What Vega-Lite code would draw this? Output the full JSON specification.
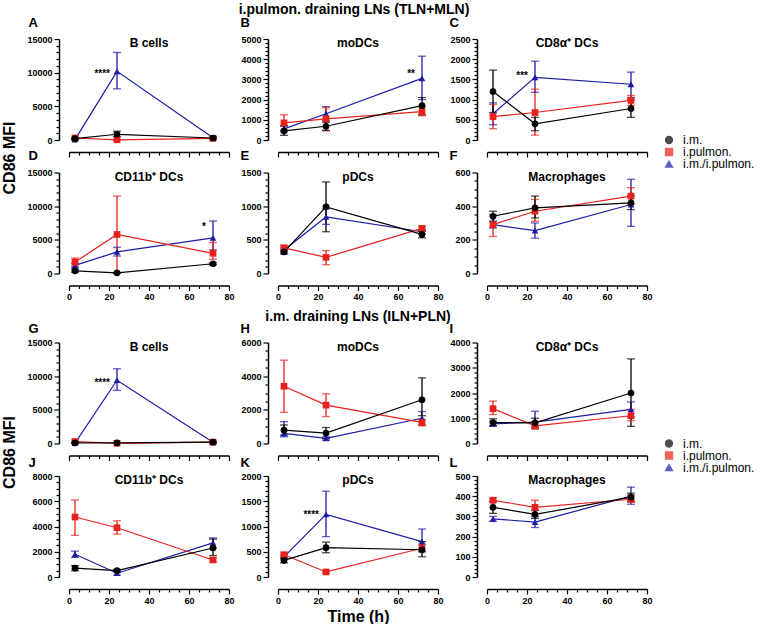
{
"$schema": "https://vega.github.io/schema/vega-lite/v6.json",
"padding": {"left": 1, "top": 3, "right": 0, "bottom": 0},
"datasets": {
"d": [
{"panel":"A","group":"i.m./i.pulmon.","time":3,"mean":50,"lo":0,"hi":100},
{"panel":"A","group":"i.m./i.pulmon.","time":24,"mean":10200,"lo":7600,"hi":13000,"star":"****","sy":10200},
{"panel":"A","group":"i.m./i.pulmon.","time":72,"mean":350,"lo":250,"hi":450},
{"panel":"A","group":"i.pulmon.","time":3,"mean":300,"lo":150,"hi":450},
{"panel":"A","group":"i.pulmon.","time":24,"mean":30,"lo":0,"hi":60},
{"panel":"A","group":"i.pulmon.","time":72,"mean":250,"lo":150,"hi":350},
{"panel":"A","group":"i.m.","time":3,"mean":200,"lo":100,"hi":300,"name":"B cells"},
{"panel":"A","group":"i.m.","time":24,"mean":850,"lo":500,"hi":1300},
{"panel":"A","group":"i.m.","time":72,"mean":300,"lo":200,"hi":400},
{"panel":"B","group":"i.m./i.pulmon.","time":3,"mean":550,"lo":400,"hi":700},
{"panel":"B","group":"i.m./i.pulmon.","time":24,"mean":1300,"lo":950,"hi":1650},
{"panel":"B","group":"i.m./i.pulmon.","time":72,"mean":3050,"lo":2000,"hi":4150,"star":"**","sy":3440},
{"panel":"B","group":"i.pulmon.","time":3,"mean":850,"lo":500,"hi":1250},
{"panel":"B","group":"i.pulmon.","time":24,"mean":1050,"lo":450,"hi":1600},
{"panel":"B","group":"i.pulmon.","time":72,"mean":1400,"lo":1200,"hi":1650},
{"panel":"B","group":"i.m.","time":3,"mean":450,"lo":230,"hi":700,"name":"moDCs"},
{"panel":"B","group":"i.m.","time":24,"mean":680,"lo":480,"hi":880},
{"panel":"B","group":"i.m.","time":72,"mean":1700,"lo":1250,"hi":2100},
{"panel":"C","group":"i.m./i.pulmon.","time":3,"mean":650,"lo":380,"hi":920},
{"panel":"C","group":"i.m./i.pulmon.","time":24,"mean":1550,"lo":1180,"hi":1950,"star":"***","sy":1650},
{"panel":"C","group":"i.m./i.pulmon.","time":72,"mean":1380,"lo":1050,"hi":1680},
{"panel":"C","group":"i.pulmon.","time":3,"mean":580,"lo":280,"hi":880},
{"panel":"C","group":"i.pulmon.","time":24,"mean":680,"lo":120,"hi":1260},
{"panel":"C","group":"i.pulmon.","time":72,"mean":980,"lo":860,"hi":1100},
{"panel":"C","group":"i.m.","time":3,"mean":1200,"lo":680,"hi":1730,"name":"CD8α⁺ DCs"},
{"panel":"C","group":"i.m.","time":24,"mean":400,"lo":230,"hi":560},
{"panel":"C","group":"i.m.","time":72,"mean":780,"lo":560,"hi":1000},
{"panel":"D","group":"i.m./i.pulmon.","time":3,"mean":1200,"lo":900,"hi":1500},
{"panel":"D","group":"i.m./i.pulmon.","time":24,"mean":3200,"lo":2600,"hi":3900},
{"panel":"D","group":"i.m./i.pulmon.","time":72,"mean":5300,"lo":3500,"hi":7800,"star":"*","sy":7350},
{"panel":"D","group":"i.pulmon.","time":3,"mean":1700,"lo":1100,"hi":2300},
{"panel":"D","group":"i.pulmon.","time":24,"mean":5800,"lo":0,"hi":11500},
{"panel":"D","group":"i.pulmon.","time":72,"mean":3000,"lo":2100,"hi":4600},
{"panel":"D","group":"i.m.","time":3,"mean":400,"lo":200,"hi":600,"name":"CD11b⁺ DCs"},
{"panel":"D","group":"i.m.","time":24,"mean":100,"lo":50,"hi":150},
{"panel":"D","group":"i.m.","time":72,"mean":1450,"lo":1300,"hi":1600},
{"panel":"E","group":"i.m./i.pulmon.","time":3,"mean":350,"lo":320,"hi":380},
{"panel":"E","group":"i.m./i.pulmon.","time":24,"mean":840,"lo":730,"hi":960},
{"panel":"E","group":"i.m./i.pulmon.","time":72,"mean":620,"lo":590,"hi":650},
{"panel":"E","group":"i.pulmon.","time":3,"mean":380,"lo":340,"hi":420},
{"panel":"E","group":"i.pulmon.","time":24,"mean":240,"lo":130,"hi":340},
{"panel":"E","group":"i.pulmon.","time":72,"mean":670,"lo":640,"hi":700},
{"panel":"E","group":"i.m.","time":3,"mean":320,"lo":290,"hi":350,"name":"pDCs"},
{"panel":"E","group":"i.m.","time":24,"mean":990,"lo":620,"hi":1360},
{"panel":"E","group":"i.m.","time":72,"mean":580,"lo":530,"hi":630},
{"panel":"F","group":"i.m./i.pulmon.","time":3,"mean":290,"lo":270,"hi":310},
{"panel":"F","group":"i.m./i.pulmon.","time":24,"mean":255,"lo":210,"hi":300},
{"panel":"F","group":"i.m./i.pulmon.","time":72,"mean":410,"lo":280,"hi":560},
{"panel":"F","group":"i.pulmon.","time":3,"mean":290,"lo":220,"hi":350},
{"panel":"F","group":"i.pulmon.","time":24,"mean":370,"lo":310,"hi":440},
{"panel":"F","group":"i.pulmon.","time":72,"mean":460,"lo":410,"hi":510},
{"panel":"F","group":"i.m.","time":3,"mean":340,"lo":310,"hi":370,"name":"Macrophages"},
{"panel":"F","group":"i.m.","time":24,"mean":390,"lo":330,"hi":460},
{"panel":"F","group":"i.m.","time":72,"mean":420,"lo":380,"hi":460},
{"panel":"G","group":"i.m./i.pulmon.","time":3,"mean":50,"lo":0,"hi":100},
{"panel":"G","group":"i.m./i.pulmon.","time":24,"mean":9400,"lo":7900,"hi":11100,"star":"****","sy":9400},
{"panel":"G","group":"i.m./i.pulmon.","time":72,"mean":200,"lo":100,"hi":300},
{"panel":"G","group":"i.pulmon.","time":3,"mean":300,"lo":100,"hi":500},
{"panel":"G","group":"i.pulmon.","time":24,"mean":30,"lo":0,"hi":60},
{"panel":"G","group":"i.pulmon.","time":72,"mean":200,"lo":100,"hi":300},
{"panel":"G","group":"i.m.","time":3,"mean":100,"lo":50,"hi":150,"name":"B cells"},
{"panel":"G","group":"i.m.","time":24,"mean":100,"lo":50,"hi":150},
{"panel":"G","group":"i.m.","time":72,"mean":200,"lo":100,"hi":300},
{"panel":"H","group":"i.m./i.pulmon.","time":3,"mean":600,"lo":400,"hi":1300},
{"panel":"H","group":"i.m./i.pulmon.","time":24,"mean":300,"lo":200,"hi":400},
{"panel":"H","group":"i.m./i.pulmon.","time":72,"mean":1500,"lo":1100,"hi":1900},
{"panel":"H","group":"i.pulmon.","time":3,"mean":3400,"lo":1850,"hi":4950},
{"panel":"H","group":"i.pulmon.","time":24,"mean":2280,"lo":1600,"hi":2950},
{"panel":"H","group":"i.pulmon.","time":72,"mean":1250,"lo":1050,"hi":1450},
{"panel":"H","group":"i.m.","time":3,"mean":790,"lo":500,"hi":1100,"name":"moDCs"},
{"panel":"H","group":"i.m.","time":24,"mean":620,"lo":300,"hi":950},
{"panel":"H","group":"i.m.","time":72,"mean":2600,"lo":1650,"hi":3900},
{"panel":"I","group":"i.m./i.pulmon.","time":3,"mean":780,"lo":700,"hi":880},
{"panel":"I","group":"i.m./i.pulmon.","time":24,"mean":850,"lo":600,"hi":1280},
{"panel":"I","group":"i.m./i.pulmon.","time":72,"mean":1350,"lo":1050,"hi":1650},
{"panel":"I","group":"i.pulmon.","time":3,"mean":1380,"lo":1150,"hi":1680},
{"panel":"I","group":"i.pulmon.","time":24,"mean":700,"lo":570,"hi":850},
{"panel":"I","group":"i.pulmon.","time":72,"mean":1100,"lo":900,"hi":1350},
{"panel":"I","group":"i.m.","time":3,"mean":830,"lo":700,"hi":980,"name":"CD8α⁺ DCs"},
{"panel":"I","group":"i.m.","time":24,"mean":820,"lo":650,"hi":1000},
{"panel":"I","group":"i.m.","time":72,"mean":2000,"lo":680,"hi":3350},
{"panel":"J","group":"i.m./i.pulmon.","time":3,"mean":1800,"lo":1550,"hi":2050},
{"panel":"J","group":"i.m./i.pulmon.","time":24,"mean":300,"lo":150,"hi":450},
{"panel":"J","group":"i.m./i.pulmon.","time":72,"mean":2700,"lo":2300,"hi":3100},
{"panel":"J","group":"i.pulmon.","time":3,"mean":4750,"lo":3300,"hi":6100},
{"panel":"J","group":"i.pulmon.","time":24,"mean":3900,"lo":3400,"hi":4450},
{"panel":"J","group":"i.pulmon.","time":72,"mean":1350,"lo":1200,"hi":1500},
{"panel":"J","group":"i.m.","time":3,"mean":700,"lo":500,"hi":900,"name":"CD11b⁺ DCs"},
{"panel":"J","group":"i.m.","time":24,"mean":500,"lo":400,"hi":600},
{"panel":"J","group":"i.m.","time":72,"mean":2300,"lo":1700,"hi":3000},
{"panel":"K","group":"i.m./i.pulmon.","time":3,"mean":400,"lo":360,"hi":440},
{"panel":"K","group":"i.m./i.pulmon.","time":24,"mean":1240,"lo":800,"hi":1700,"star":"****","sy":1280},
{"panel":"K","group":"i.m./i.pulmon.","time":72,"mean":700,"lo":500,"hi":950},
{"panel":"K","group":"i.pulmon.","time":3,"mean":440,"lo":400,"hi":490},
{"panel":"K","group":"i.pulmon.","time":24,"mean":100,"lo":80,"hi":120},
{"panel":"K","group":"i.pulmon.","time":72,"mean":570,"lo":500,"hi":650},
{"panel":"K","group":"i.m.","time":3,"mean":330,"lo":280,"hi":380,"name":"pDCs"},
{"panel":"K","group":"i.m.","time":24,"mean":580,"lo":480,"hi":690},
{"panel":"K","group":"i.m.","time":72,"mean":540,"lo":400,"hi":700},
{"panel":"L","group":"i.m./i.pulmon.","time":3,"mean":288,"lo":275,"hi":300},
{"panel":"L","group":"i.m./i.pulmon.","time":24,"mean":272,"lo":245,"hi":300},
{"panel":"L","group":"i.m./i.pulmon.","time":72,"mean":400,"lo":360,"hi":445},
{"panel":"L","group":"i.pulmon.","time":3,"mean":380,"lo":370,"hi":390},
{"panel":"L","group":"i.pulmon.","time":24,"mean":345,"lo":315,"hi":380},
{"panel":"L","group":"i.pulmon.","time":72,"mean":385,"lo":370,"hi":405},
{"panel":"L","group":"i.m.","time":3,"mean":345,"lo":315,"hi":375,"name":"Macrophages"},
{"panel":"L","group":"i.m.","time":24,"mean":310,"lo":290,"hi":330},
{"panel":"L","group":"i.m.","time":72,"mean":395,"lo":375,"hi":415}
],
"blank": [{"section":"i.m. draining LNs (ILN+PLN)"}]
},
"title": {"text": "i.pulmon. draining LNs (TLN+MLN)", "anchor": "middle", "fontSize": 14, "offset": -1, "dx": -24},
"columns": 3,
"spacing": {"row": 32.5, "column": 49},
"bounds": "flush",
"resolve": {"scale": {"color": "independent", "shape": "independent"}},
"concat": [
{"width":160,"height":101,
"data":{"name":"d"},"transform":[{"filter":"datum.panel === 'A'"}],
"encoding":{
"x":{"field":"time","type":"quantitative","scale":{"domain":[0,80],"nice":false},"axis":{"tickCount":16,"labels":false,"title":null,"offset":12,"tickSize":{"condition":{"test":"datum.value % 20 === 0","value":5},"value":3}}},
"y":{"field":"mean","type":"quantitative","scale":{"domain":[0,15000],"nice":false},"axis":{"tickCount":15,"labelExpr":"datum.value % 5000 === 0 ? datum.label : ''","format":"d","offset":10,"title":"A","titleFontSize":13,"titleAngle":0,"titleAlign":"left","titleBaseline":"alphabetic","titleX":-31,"titleY":-13,"tickSize":{"condition":{"test":"datum.value % 5000 === 0","value":5},"value":3}}},
"color":{"field":"group","type":"nominal","scale":{"domain":["i.m.","i.pulmon.","i.m./i.pulmon."],"range":["#000000","#e8211d","#1c1ca8"]},"legend":null}},
"layer":[
{"mark":{"type":"line","strokeWidth":1.2}},
{"mark":{"type":"rule","strokeWidth":1.3},"encoding":{"y":{"field":"lo","type":"quantitative"},"y2":{"field":"hi"}}},
{"mark":{"type":"tick","orient":"horizontal","size":8,"thickness":1.3},"encoding":{"y":{"field":"lo","type":"quantitative"}}},
{"mark":{"type":"tick","orient":"horizontal","size":8,"thickness":1.3},"encoding":{"y":{"field":"hi","type":"quantitative"}}},
{"mark":{"type":"point","filled":true,"size":45,"opacity":1},"encoding":{"shape":{"field":"group","type":"nominal","scale":{"domain":["i.m.","i.pulmon.","i.m./i.pulmon."],"range":["circle","square","triangle-up"]},"legend":null}}},
{"transform":[{"filter":"datum.star != null"}],"mark":{"type":"text","align":"right","baseline":"middle","dx":-7,"dy":3,"fontSize":10,"fontWeight":"bold"},"encoding":{"y":{"field":"sy","type":"quantitative"},"text":{"field":"star"},"color":{"value":"black"}}},
{"transform":[{"filter":"datum.name != null"}],"mark":{"type":"text","baseline":"alphabetic","dy":8,"fontSize":12,"fontWeight":"bold"},"encoding":{"x":{"datum":40},"y":{"datum":15000},"text":{"field":"name"},"color":{"value":"black"}}}
]},
{"width":160,"height":101,
"data":{"name":"d"},"transform":[{"filter":"datum.panel === 'B'"}],
"encoding":{
"x":{"field":"time","type":"quantitative","scale":{"domain":[0,80],"nice":false},"axis":{"tickCount":16,"labels":false,"title":null,"offset":12,"tickSize":{"condition":{"test":"datum.value % 20 === 0","value":5},"value":3}}},
"y":{"field":"mean","type":"quantitative","scale":{"domain":[0,5000],"nice":false},"axis":{"tickCount":25,"labelExpr":"datum.value % 1000 === 0 ? datum.label : ''","format":"d","offset":10,"title":"B","titleFontSize":13,"titleAngle":0,"titleAlign":"left","titleBaseline":"alphabetic","titleX":-28,"titleY":-13,"tickSize":{"condition":{"test":"datum.value % 1000 === 0","value":5},"value":3}}},
"color":{"field":"group","type":"nominal","scale":{"domain":["i.m.","i.pulmon.","i.m./i.pulmon."],"range":["#000000","#e8211d","#1c1ca8"]},"legend":null}},
"layer":[
{"mark":{"type":"line","strokeWidth":1.2}},
{"mark":{"type":"rule","strokeWidth":1.3},"encoding":{"y":{"field":"lo","type":"quantitative"},"y2":{"field":"hi"}}},
{"mark":{"type":"tick","orient":"horizontal","size":8,"thickness":1.3},"encoding":{"y":{"field":"lo","type":"quantitative"}}},
{"mark":{"type":"tick","orient":"horizontal","size":8,"thickness":1.3},"encoding":{"y":{"field":"hi","type":"quantitative"}}},
{"mark":{"type":"point","filled":true,"size":45,"opacity":1},"encoding":{"shape":{"field":"group","type":"nominal","scale":{"domain":["i.m.","i.pulmon.","i.m./i.pulmon."],"range":["circle","square","triangle-up"]},"legend":null}}},
{"transform":[{"filter":"datum.star != null"}],"mark":{"type":"text","align":"right","baseline":"middle","dx":-7,"dy":3,"fontSize":10,"fontWeight":"bold"},"encoding":{"y":{"field":"sy","type":"quantitative"},"text":{"field":"star"},"color":{"value":"black"}}},
{"transform":[{"filter":"datum.name != null"}],"mark":{"type":"text","baseline":"alphabetic","dy":8,"fontSize":12,"fontWeight":"bold"},"encoding":{"x":{"datum":40},"y":{"datum":5000},"text":{"field":"name"},"color":{"value":"black"}}}
]},
{"width":160,"height":101,
"data":{"name":"d"},"transform":[{"filter":"datum.panel === 'C'"}],
"encoding":{
"x":{"field":"time","type":"quantitative","scale":{"domain":[0,80],"nice":false},"axis":{"tickCount":16,"labels":false,"title":null,"offset":12,"tickSize":{"condition":{"test":"datum.value % 20 === 0","value":5},"value":3}}},
"y":{"field":"mean","type":"quantitative","scale":{"domain":[0,2500],"nice":false},"axis":{"tickCount":25,"labelExpr":"datum.value % 500 === 0 ? datum.label : ''","format":"d","offset":10,"title":"C","titleFontSize":13,"titleAngle":0,"titleAlign":"left","titleBaseline":"alphabetic","titleX":-28,"titleY":-13,"tickSize":{"condition":{"test":"datum.value % 500 === 0","value":5},"value":3}}},
"color":{"field":"group","type":"nominal","scale":{"domain":["i.m.","i.pulmon.","i.m./i.pulmon."],"range":["#000000","#e8211d","#1c1ca8"]},"legend":{"title":null,"orient":"none","legendX":176,"legendY":95}}},
"layer":[
{"mark":{"type":"line","strokeWidth":1.2}},
{"mark":{"type":"rule","strokeWidth":1.3},"encoding":{"y":{"field":"lo","type":"quantitative"},"y2":{"field":"hi"}}},
{"mark":{"type":"tick","orient":"horizontal","size":8,"thickness":1.3},"encoding":{"y":{"field":"lo","type":"quantitative"}}},
{"mark":{"type":"tick","orient":"horizontal","size":8,"thickness":1.3},"encoding":{"y":{"field":"hi","type":"quantitative"}}},
{"mark":{"type":"point","filled":true,"size":45,"opacity":1},"encoding":{"shape":{"field":"group","type":"nominal","scale":{"domain":["i.m.","i.pulmon.","i.m./i.pulmon."],"range":["circle","square","triangle-up"]},"legend":{"title":null,"orient":"none","legendX":176,"legendY":95}}}},
{"transform":[{"filter":"datum.star != null"}],"mark":{"type":"text","align":"right","baseline":"middle","dx":-7,"dy":3,"fontSize":10,"fontWeight":"bold"},"encoding":{"y":{"field":"sy","type":"quantitative"},"text":{"field":"star"},"color":{"value":"black"}}},
{"transform":[{"filter":"datum.name != null"}],"mark":{"type":"text","baseline":"alphabetic","dy":8,"fontSize":12,"fontWeight":"bold"},"encoding":{"x":{"datum":40},"y":{"datum":2500},"text":{"field":"name"},"color":{"value":"black"}}}
]},
{"width":160,"height":101,
"data":{"name":"d"},"transform":[{"filter":"datum.panel === 'D'"}],
"encoding":{
"x":{"field":"time","type":"quantitative","scale":{"domain":[0,80],"nice":false},"axis":{"tickCount":16,"labelExpr":"datum.value % 20 === 0 ? datum.label : ''","offset":12,"title":"D","titleFontSize":13,"titleAngle":0,"titleAlign":"left","titleBaseline":"alphabetic","titleX":-41,"titleY":-126,"tickSize":{"condition":{"test":"datum.value % 20 === 0","value":5},"value":3}}},
"y":{"field":"mean","type":"quantitative","scale":{"domain":[0,15000],"nice":false},"axis":{"tickCount":15,"labelExpr":"datum.value % 5000 === 0 ? datum.label : ''","format":"d","offset":10,"title":"CD86 MFI","titleFontSize":16,"titleX":-50,"titleY":-15,"titleAlign":"center","titleBaseline":"middle","titleAngle":-90,"tickSize":{"condition":{"test":"datum.value % 5000 === 0","value":5},"value":3}}},
"color":{"field":"group","type":"nominal","scale":{"domain":["i.m.","i.pulmon.","i.m./i.pulmon."],"range":["#000000","#e8211d","#1c1ca8"]},"legend":null}},
"layer":[
{"mark":{"type":"line","strokeWidth":1.2}},
{"mark":{"type":"rule","strokeWidth":1.3},"encoding":{"y":{"field":"lo","type":"quantitative"},"y2":{"field":"hi"}}},
{"mark":{"type":"tick","orient":"horizontal","size":8,"thickness":1.3},"encoding":{"y":{"field":"lo","type":"quantitative"}}},
{"mark":{"type":"tick","orient":"horizontal","size":8,"thickness":1.3},"encoding":{"y":{"field":"hi","type":"quantitative"}}},
{"mark":{"type":"point","filled":true,"size":45,"opacity":1},"encoding":{"shape":{"field":"group","type":"nominal","scale":{"domain":["i.m.","i.pulmon.","i.m./i.pulmon."],"range":["circle","square","triangle-up"]},"legend":null}}},
{"transform":[{"filter":"datum.star != null"}],"mark":{"type":"text","align":"right","baseline":"middle","dx":-7,"dy":3,"fontSize":10,"fontWeight":"bold"},"encoding":{"y":{"field":"sy","type":"quantitative"},"text":{"field":"star"},"color":{"value":"black"}}},
{"transform":[{"filter":"datum.name != null"}],"mark":{"type":"text","baseline":"alphabetic","dy":8,"fontSize":12,"fontWeight":"bold"},"encoding":{"x":{"datum":40},"y":{"datum":15000},"text":{"field":"name"},"color":{"value":"black"}}}
]},
{"width":160,"height":101,
"data":{"name":"d"},"transform":[{"filter":"datum.panel === 'E'"}],
"encoding":{
"x":{"field":"time","type":"quantitative","scale":{"domain":[0,80],"nice":false},"axis":{"tickCount":16,"labelExpr":"datum.value % 20 === 0 ? datum.label : ''","title":null,"offset":12,"tickSize":{"condition":{"test":"datum.value % 20 === 0","value":5},"value":3}}},
"y":{"field":"mean","type":"quantitative","scale":{"domain":[0,1500],"nice":false},"axis":{"tickCount":15,"labelExpr":"datum.value % 500 === 0 ? datum.label : ''","format":"d","offset":10,"title":"E","titleFontSize":13,"titleAngle":0,"titleAlign":"left","titleBaseline":"alphabetic","titleX":-28,"titleY":-13,"tickSize":{"condition":{"test":"datum.value % 500 === 0","value":5},"value":3}}},
"color":{"field":"group","type":"nominal","scale":{"domain":["i.m.","i.pulmon.","i.m./i.pulmon."],"range":["#000000","#e8211d","#1c1ca8"]},"legend":null}},
"layer":[
{"mark":{"type":"line","strokeWidth":1.2}},
{"mark":{"type":"rule","strokeWidth":1.3},"encoding":{"y":{"field":"lo","type":"quantitative"},"y2":{"field":"hi"}}},
{"mark":{"type":"tick","orient":"horizontal","size":8,"thickness":1.3},"encoding":{"y":{"field":"lo","type":"quantitative"}}},
{"mark":{"type":"tick","orient":"horizontal","size":8,"thickness":1.3},"encoding":{"y":{"field":"hi","type":"quantitative"}}},
{"mark":{"type":"point","filled":true,"size":45,"opacity":1},"encoding":{"shape":{"field":"group","type":"nominal","scale":{"domain":["i.m.","i.pulmon.","i.m./i.pulmon."],"range":["circle","square","triangle-up"]},"legend":null}}},
{"transform":[{"filter":"datum.name != null"}],"mark":{"type":"text","baseline":"alphabetic","dy":8,"fontSize":12,"fontWeight":"bold"},"encoding":{"x":{"datum":40},"y":{"datum":1500},"text":{"field":"name"},"color":{"value":"black"}}}
]},
{"width":160,"height":101,
"data":{"name":"d"},"transform":[{"filter":"datum.panel === 'F'"}],
"encoding":{
"x":{"field":"time","type":"quantitative","scale":{"domain":[0,80],"nice":false},"axis":{"tickCount":16,"labelExpr":"datum.value % 20 === 0 ? datum.label : ''","title":null,"offset":12,"tickSize":{"condition":{"test":"datum.value % 20 === 0","value":5},"value":3}}},
"y":{"field":"mean","type":"quantitative","scale":{"domain":[0,600],"nice":false},"axis":{"tickCount":12,"labelExpr":"datum.value % 200 === 0 ? datum.label : ''","format":"d","offset":10,"title":"F","titleFontSize":13,"titleAngle":0,"titleAlign":"left","titleBaseline":"alphabetic","titleX":-28,"titleY":-13,"tickSize":{"condition":{"test":"datum.value % 200 === 0","value":5},"value":3}}},
"color":{"field":"group","type":"nominal","scale":{"domain":["i.m.","i.pulmon.","i.m./i.pulmon."],"range":["#000000","#e8211d","#1c1ca8"]},"legend":null}},
"layer":[
{"mark":{"type":"line","strokeWidth":1.2}},
{"mark":{"type":"rule","strokeWidth":1.3},"encoding":{"y":{"field":"lo","type":"quantitative"},"y2":{"field":"hi"}}},
{"mark":{"type":"tick","orient":"horizontal","size":8,"thickness":1.3},"encoding":{"y":{"field":"lo","type":"quantitative"}}},
{"mark":{"type":"tick","orient":"horizontal","size":8,"thickness":1.3},"encoding":{"y":{"field":"hi","type":"quantitative"}}},
{"mark":{"type":"point","filled":true,"size":45,"opacity":1},"encoding":{"shape":{"field":"group","type":"nominal","scale":{"domain":["i.m.","i.pulmon.","i.m./i.pulmon."],"range":["circle","square","triangle-up"]},"legend":null}}},
{"transform":[{"filter":"datum.name != null"}],"mark":{"type":"text","baseline":"alphabetic","dy":8,"fontSize":12,"fontWeight":"bold"},"encoding":{"x":{"datum":40},"y":{"datum":600},"text":{"field":"name"},"color":{"value":"black"}}}
]},
{"width":160,"height":4,"data":{"name":"blank"},"mark":{"type":"point","opacity":0},"encoding":{}},
{"width":160,"height":4,"title":{"text":"i.m. draining LNs (ILN+PLN)","orient":"bottom","anchor":"middle","fontSize":14,"offset":-1},"data":{"name":"blank"},"mark":{"type":"point","opacity":0},"encoding":{}},
{"width":160,"height":4,"data":{"name":"blank"},"mark":{"type":"point","opacity":0},"encoding":{}},
{"width":160,"height":101,
"data":{"name":"d"},"transform":[{"filter":"datum.panel === 'G'"}],
"encoding":{
"x":{"field":"time","type":"quantitative","scale":{"domain":[0,80],"nice":false},"axis":{"tickCount":16,"labels":false,"title":null,"offset":12,"tickSize":{"condition":{"test":"datum.value % 20 === 0","value":5},"value":3}}},
"y":{"field":"mean","type":"quantitative","scale":{"domain":[0,15000],"nice":false},"axis":{"tickCount":15,"labelExpr":"datum.value % 5000 === 0 ? datum.label : ''","format":"d","offset":10,"title":"G","titleFontSize":13,"titleAngle":0,"titleAlign":"left","titleBaseline":"alphabetic","titleX":-31,"titleY":-10,"tickSize":{"condition":{"test":"datum.value % 5000 === 0","value":5},"value":3}}},
"color":{"field":"group","type":"nominal","scale":{"domain":["i.m.","i.pulmon.","i.m./i.pulmon."],"range":["#000000","#e8211d","#1c1ca8"]},"legend":null}},
"layer":[
{"mark":{"type":"line","strokeWidth":1.2}},
{"mark":{"type":"rule","strokeWidth":1.3},"encoding":{"y":{"field":"lo","type":"quantitative"},"y2":{"field":"hi"}}},
{"mark":{"type":"tick","orient":"horizontal","size":8,"thickness":1.3},"encoding":{"y":{"field":"lo","type":"quantitative"}}},
{"mark":{"type":"tick","orient":"horizontal","size":8,"thickness":1.3},"encoding":{"y":{"field":"hi","type":"quantitative"}}},
{"mark":{"type":"point","filled":true,"size":45,"opacity":1},"encoding":{"shape":{"field":"group","type":"nominal","scale":{"domain":["i.m.","i.pulmon.","i.m./i.pulmon."],"range":["circle","square","triangle-up"]},"legend":null}}},
{"transform":[{"filter":"datum.star != null"}],"mark":{"type":"text","align":"right","baseline":"middle","dx":-7,"dy":3,"fontSize":10,"fontWeight":"bold"},"encoding":{"y":{"field":"sy","type":"quantitative"},"text":{"field":"star"},"color":{"value":"black"}}},
{"transform":[{"filter":"datum.name != null"}],"mark":{"type":"text","baseline":"alphabetic","dy":8,"fontSize":12,"fontWeight":"bold"},"encoding":{"x":{"datum":40},"y":{"datum":15000},"text":{"field":"name"},"color":{"value":"black"}}}
]},
{"width":160,"height":101,
"data":{"name":"d"},"transform":[{"filter":"datum.panel === 'H'"}],
"encoding":{
"x":{"field":"time","type":"quantitative","scale":{"domain":[0,80],"nice":false},"axis":{"tickCount":16,"labels":false,"title":null,"offset":12,"tickSize":{"condition":{"test":"datum.value % 20 === 0","value":5},"value":3}}},
"y":{"field":"mean","type":"quantitative","scale":{"domain":[0,6000],"nice":false},"axis":{"tickCount":12,"labelExpr":"datum.value % 2000 === 0 ? datum.label : ''","format":"d","offset":10,"title":"H","titleFontSize":13,"titleAngle":0,"titleAlign":"left","titleBaseline":"alphabetic","titleX":-28,"titleY":-10,"tickSize":{"condition":{"test":"datum.value % 2000 === 0","value":5},"value":3}}},
"color":{"field":"group","type":"nominal","scale":{"domain":["i.m.","i.pulmon.","i.m./i.pulmon."],"range":["#000000","#e8211d","#1c1ca8"]},"legend":null}},
"layer":[
{"mark":{"type":"line","strokeWidth":1.2}},
{"mark":{"type":"rule","strokeWidth":1.3},"encoding":{"y":{"field":"lo","type":"quantitative"},"y2":{"field":"hi"}}},
{"mark":{"type":"tick","orient":"horizontal","size":8,"thickness":1.3},"encoding":{"y":{"field":"lo","type":"quantitative"}}},
{"mark":{"type":"tick","orient":"horizontal","size":8,"thickness":1.3},"encoding":{"y":{"field":"hi","type":"quantitative"}}},
{"mark":{"type":"point","filled":true,"size":45,"opacity":1},"encoding":{"shape":{"field":"group","type":"nominal","scale":{"domain":["i.m.","i.pulmon.","i.m./i.pulmon."],"range":["circle","square","triangle-up"]},"legend":null}}},
{"transform":[{"filter":"datum.name != null"}],"mark":{"type":"text","baseline":"alphabetic","dy":8,"fontSize":12,"fontWeight":"bold"},"encoding":{"x":{"datum":40},"y":{"datum":6000},"text":{"field":"name"},"color":{"value":"black"}}}
]},
{"width":160,"height":101,
"data":{"name":"d"},"transform":[{"filter":"datum.panel === 'I'"}],
"encoding":{
"x":{"field":"time","type":"quantitative","scale":{"domain":[0,80],"nice":false},"axis":{"tickCount":16,"labels":false,"title":null,"offset":12,"tickSize":{"condition":{"test":"datum.value % 20 === 0","value":5},"value":3}}},
"y":{"field":"mean","type":"quantitative","scale":{"domain":[0,4000],"nice":false},"axis":{"tickCount":20,"labelExpr":"datum.value % 1000 === 0 ? datum.label : ''","format":"d","offset":10,"title":"I","titleFontSize":13,"titleAngle":0,"titleAlign":"left","titleBaseline":"alphabetic","titleX":-28,"titleY":-10,"tickSize":{"condition":{"test":"datum.value % 1000 === 0","value":5},"value":3}}},
"color":{"field":"group","type":"nominal","scale":{"domain":["i.m.","i.pulmon.","i.m./i.pulmon."],"range":["#000000","#e8211d","#1c1ca8"]},"legend":{"title":null,"orient":"none","legendX":176,"legendY":95}}},
"layer":[
{"mark":{"type":"line","strokeWidth":1.2}},
{"mark":{"type":"rule","strokeWidth":1.3},"encoding":{"y":{"field":"lo","type":"quantitative"},"y2":{"field":"hi"}}},
{"mark":{"type":"tick","orient":"horizontal","size":8,"thickness":1.3},"encoding":{"y":{"field":"lo","type":"quantitative"}}},
{"mark":{"type":"tick","orient":"horizontal","size":8,"thickness":1.3},"encoding":{"y":{"field":"hi","type":"quantitative"}}},
{"mark":{"type":"point","filled":true,"size":45,"opacity":1},"encoding":{"shape":{"field":"group","type":"nominal","scale":{"domain":["i.m.","i.pulmon.","i.m./i.pulmon."],"range":["circle","square","triangle-up"]},"legend":{"title":null,"orient":"none","legendX":176,"legendY":95}}}},
{"transform":[{"filter":"datum.name != null"}],"mark":{"type":"text","baseline":"alphabetic","dy":8,"fontSize":12,"fontWeight":"bold"},"encoding":{"x":{"datum":40},"y":{"datum":4000},"text":{"field":"name"},"color":{"value":"black"}}}
]},
{"width":160,"height":101,
"data":{"name":"d"},"transform":[{"filter":"datum.panel === 'J'"}],
"encoding":{
"x":{"field":"time","type":"quantitative","scale":{"domain":[0,80],"nice":false},"axis":{"tickCount":16,"labelExpr":"datum.value % 20 === 0 ? datum.label : ''","offset":12,"title":"J","titleFontSize":13,"titleAngle":0,"titleAlign":"left","titleBaseline":"alphabetic","titleX":-41,"titleY":-123,"tickSize":{"condition":{"test":"datum.value % 20 === 0","value":5},"value":3}}},
"y":{"field":"mean","type":"quantitative","scale":{"domain":[0,8000],"nice":false},"axis":{"tickCount":16,"labelExpr":"datum.value % 2000 === 0 ? datum.label : ''","format":"d","offset":10,"title":"CD86 MFI","titleFontSize":16,"titleX":-50,"titleY":-24,"titleAlign":"center","titleBaseline":"middle","titleAngle":-90,"tickSize":{"condition":{"test":"datum.value % 2000 === 0","value":5},"value":3}}},
"color":{"field":"group","type":"nominal","scale":{"domain":["i.m.","i.pulmon.","i.m./i.pulmon."],"range":["#000000","#e8211d","#1c1ca8"]},"legend":null}},
"layer":[
{"mark":{"type":"line","strokeWidth":1.2}},
{"mark":{"type":"rule","strokeWidth":1.3},"encoding":{"y":{"field":"lo","type":"quantitative"},"y2":{"field":"hi"}}},
{"mark":{"type":"tick","orient":"horizontal","size":8,"thickness":1.3},"encoding":{"y":{"field":"lo","type":"quantitative"}}},
{"mark":{"type":"tick","orient":"horizontal","size":8,"thickness":1.3},"encoding":{"y":{"field":"hi","type":"quantitative"}}},
{"mark":{"type":"point","filled":true,"size":45,"opacity":1},"encoding":{"shape":{"field":"group","type":"nominal","scale":{"domain":["i.m.","i.pulmon.","i.m./i.pulmon."],"range":["circle","square","triangle-up"]},"legend":null}}},
{"transform":[{"filter":"datum.name != null"}],"mark":{"type":"text","baseline":"alphabetic","dy":8,"fontSize":12,"fontWeight":"bold"},"encoding":{"x":{"datum":40},"y":{"datum":8000},"text":{"field":"name"},"color":{"value":"black"}}}
]},
{"width":160,"height":101,
"data":{"name":"d"},"transform":[{"filter":"datum.panel === 'K'"}],
"encoding":{
"x":{"field":"time","type":"quantitative","scale":{"domain":[0,80],"nice":false},"axis":{"tickCount":16,"labelExpr":"datum.value % 20 === 0 ? datum.label : ''","title":"Time (h)","titleFontSize":16,"titlePadding":3,"offset":12,"tickSize":{"condition":{"test":"datum.value % 20 === 0","value":5},"value":3}}},
"y":{"field":"mean","type":"quantitative","scale":{"domain":[0,2000],"nice":false},"axis":{"tickCount":20,"labelExpr":"datum.value % 500 === 0 ? datum.label : ''","format":"d","offset":10,"title":"K","titleFontSize":13,"titleAngle":0,"titleAlign":"left","titleBaseline":"alphabetic","titleX":-28,"titleY":-10,"tickSize":{"condition":{"test":"datum.value % 500 === 0","value":5},"value":3}}},
"color":{"field":"group","type":"nominal","scale":{"domain":["i.m.","i.pulmon.","i.m./i.pulmon."],"range":["#000000","#e8211d","#1c1ca8"]},"legend":null}},
"layer":[
{"mark":{"type":"line","strokeWidth":1.2}},
{"mark":{"type":"rule","strokeWidth":1.3},"encoding":{"y":{"field":"lo","type":"quantitative"},"y2":{"field":"hi"}}},
{"mark":{"type":"tick","orient":"horizontal","size":8,"thickness":1.3},"encoding":{"y":{"field":"lo","type":"quantitative"}}},
{"mark":{"type":"tick","orient":"horizontal","size":8,"thickness":1.3},"encoding":{"y":{"field":"hi","type":"quantitative"}}},
{"mark":{"type":"point","filled":true,"size":45,"opacity":1},"encoding":{"shape":{"field":"group","type":"nominal","scale":{"domain":["i.m.","i.pulmon.","i.m./i.pulmon."],"range":["circle","square","triangle-up"]},"legend":null}}},
{"transform":[{"filter":"datum.star != null"}],"mark":{"type":"text","align":"right","baseline":"middle","dx":-7,"dy":3,"fontSize":10,"fontWeight":"bold"},"encoding":{"y":{"field":"sy","type":"quantitative"},"text":{"field":"star"},"color":{"value":"black"}}},
{"transform":[{"filter":"datum.name != null"}],"mark":{"type":"text","baseline":"alphabetic","dy":8,"fontSize":12,"fontWeight":"bold"},"encoding":{"x":{"datum":40},"y":{"datum":2000},"text":{"field":"name"},"color":{"value":"black"}}}
]},
{"width":160,"height":101,
"data":{"name":"d"},"transform":[{"filter":"datum.panel === 'L'"}],
"encoding":{
"x":{"field":"time","type":"quantitative","scale":{"domain":[0,80],"nice":false},"axis":{"tickCount":16,"labelExpr":"datum.value % 20 === 0 ? datum.label : ''","title":null,"offset":12,"tickSize":{"condition":{"test":"datum.value % 20 === 0","value":5},"value":3}}},
"y":{"field":"mean","type":"quantitative","scale":{"domain":[0,500],"nice":false},"axis":{"tickCount":25,"labelExpr":"datum.value % 100 === 0 ? datum.label : ''","format":"d","offset":10,"title":"L","titleFontSize":13,"titleAngle":0,"titleAlign":"left","titleBaseline":"alphabetic","titleX":-28,"titleY":-10,"tickSize":{"condition":{"test":"datum.value % 100 === 0","value":5},"value":3}}},
"color":{"field":"group","type":"nominal","scale":{"domain":["i.m.","i.pulmon.","i.m./i.pulmon."],"range":["#000000","#e8211d","#1c1ca8"]},"legend":null}},
"layer":[
{"mark":{"type":"line","strokeWidth":1.2}},
{"mark":{"type":"rule","strokeWidth":1.3},"encoding":{"y":{"field":"lo","type":"quantitative"},"y2":{"field":"hi"}}},
{"mark":{"type":"tick","orient":"horizontal","size":8,"thickness":1.3},"encoding":{"y":{"field":"lo","type":"quantitative"}}},
{"mark":{"type":"tick","orient":"horizontal","size":8,"thickness":1.3},"encoding":{"y":{"field":"hi","type":"quantitative"}}},
{"mark":{"type":"point","filled":true,"size":45,"opacity":1},"encoding":{"shape":{"field":"group","type":"nominal","scale":{"domain":["i.m.","i.pulmon.","i.m./i.pulmon."],"range":["circle","square","triangle-up"]},"legend":null}}},
{"transform":[{"filter":"datum.name != null"}],"mark":{"type":"text","baseline":"alphabetic","dy":8,"fontSize":12,"fontWeight":"bold"},"encoding":{"x":{"datum":40},"y":{"datum":500},"text":{"field":"name"},"color":{"value":"black"}}}
]}
],
"config": {
"view": {"stroke": null},
"font": "Liberation Sans",
"axis": {"grid": false, "domainColor": "black", "domainWidth": 1.5, "tickColor": "black", "tickWidth": 1.2, "labelColor": "black", "labelFont": "Liberation Sans", "labelFontWeight": "bold", "labelFontSize": 9, "labelPadding": 2, "labelOverlap": false, "labelFlush": false, "titleColor": "black", "titleFont": "Liberation Sans", "titleFontWeight": "bold"},
"title": {"font": "Liberation Sans", "fontWeight": "bold", "color": "black"},
"legend": {"labelFont": "Liberation Sans", "labelFontSize": 12, "labelColor": "black", "symbolSize": 50, "rowPadding": 0, "padding": 0, "labelOffset": 8, "symbolStrokeWidth": 1.2},
"text": {"font": "Liberation Sans"}
}
}
